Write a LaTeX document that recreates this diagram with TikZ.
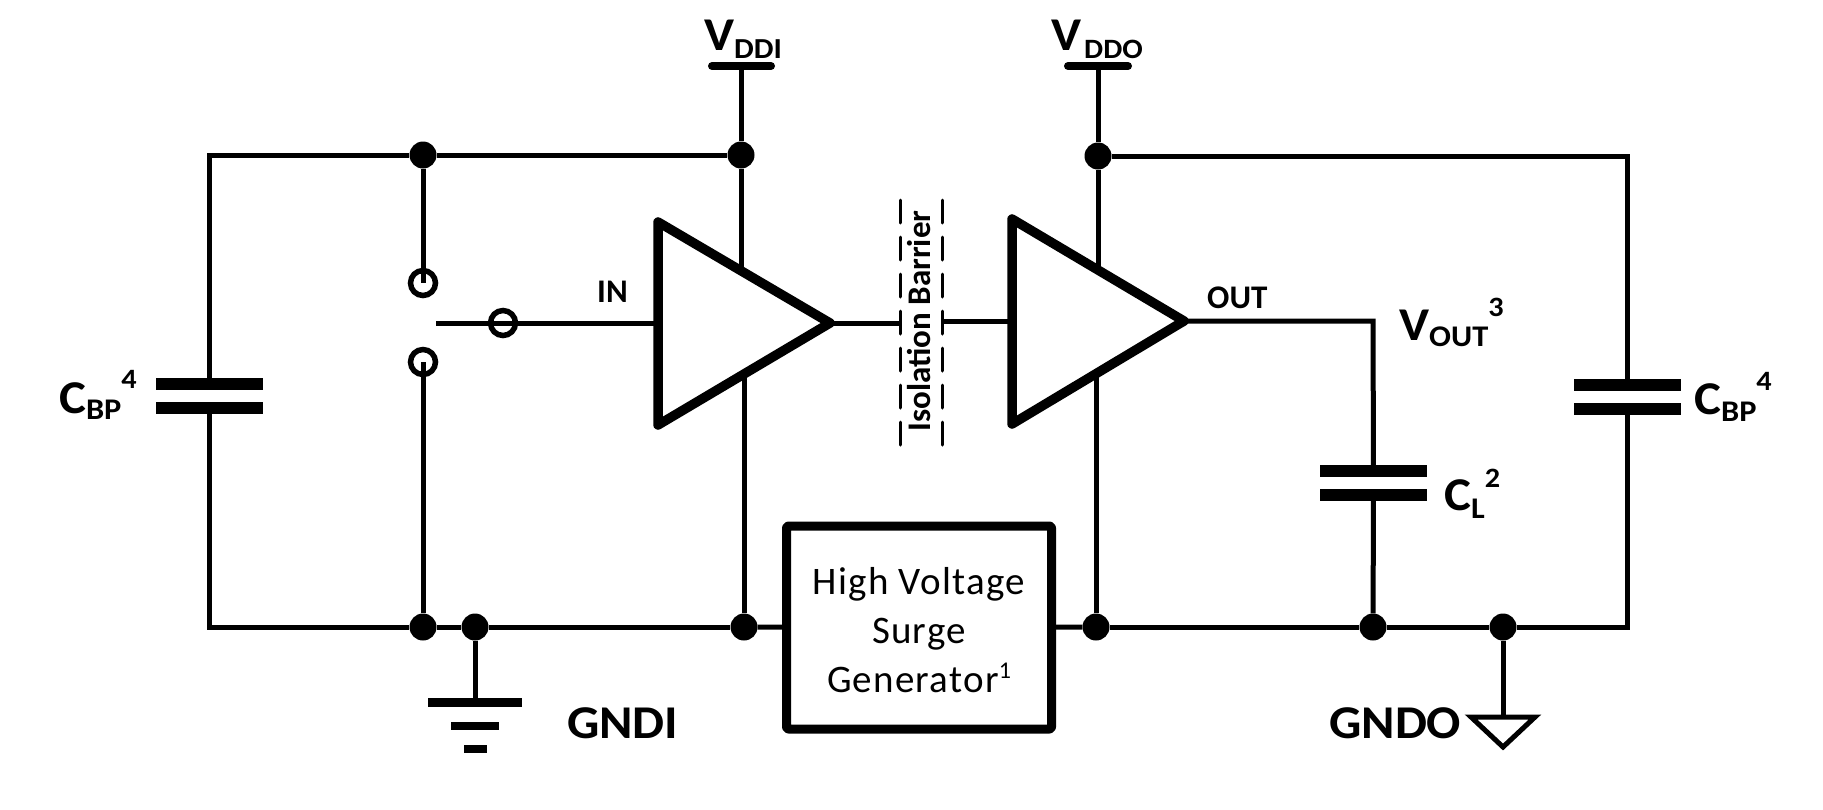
\documentclass[tikz,border=0pt]{standalone}
\usepackage{fontspec}
\setmainfont{Carlito}
\newfontfamily\stretchfont[FakeStretch=1.08]{Carlito}
\usetikzlibrary{arrows.meta}
\newcommand{\lowsub}[3]{\raisebox{#2pt}{\fontsize{#1}{#1}\selectfont #3}}
\tikzset{
	wire/.style={line width=5pt},
	thickwire/.style={line width=9.5pt, line join=round},
	jdot/.style={circle, fill=black, inner sep=0pt, minimum size=27pt},
	swpin/.style={circle, draw, line width=5.5pt, inner sep=0pt, minimum size=25pt},
	plate/.style={rectangle, fill=black, inner sep=0pt, minimum width=107pt, minimum height=12pt},
	railbar/.style={line width=8pt, line cap=round},
	biglabel/.style={font=\stretchfont\fontsize{47}{47}\selectfont\bfseries, inner sep=0pt, anchor=base west},
	smalllabel/.style={font=\fontsize{33}{33}\selectfont\bfseries, inner sep=0pt, anchor=base west},
	barrier/.style={line width=3pt, dash pattern=on 23pt off 14pt, line cap=round}
}
\begin{document}
\begin{tikzpicture}[x=1pt, y=-1pt]
		\useasboundingbox (0,0) rectangle (1823,809);

		\node[jdot] (J1) at (423,155) {};
		\node[jdot] (J2) at (741,155) {};
		\node[jdot] (J3) at (1098,156) {};
		\node[jdot] (J4) at (423,627) {};
		\node[jdot] (J5) at (475,627) {};
		\node[jdot] (J6) at (744,627) {};
		\node[jdot] (J7) at (1096,627) {};
		\node[jdot] (J8) at (1373,627) {};
		\node[jdot] (J9) at (1503,627) {};

		\node[swpin] (S1) at (423,283) {};
		\node[swpin] (S2) at (503,323) {};
		\node[swpin] (S3) at (423,362) {};
		\coordinate (Sarm) at (436,323);

		\coordinate (Atop) at (658,222);
		\coordinate (Abot) at (658,425);
		\coordinate (Atip) at (830,323);
		\coordinate (Ain) at (658,323);
		\coordinate (Aup) at (741,268);
		\coordinate (Adown) at (744,377);
		\coordinate (Btop) at (1012,219);
		\coordinate (Bbot) at (1012,424);
		\coordinate (Btip) at (1184,321);
		\coordinate (Bin) at (1012,321);
		\coordinate (Bup) at (1098,268);
		\coordinate (Bdown) at (1096,377);
		\draw[thickwire] (Atop) -- (Atip) -- (Abot) -- cycle;
		\draw[thickwire] (Btop) -- (Btip) -- (Bbot) -- cycle;

		\node[draw, thickwire, line width=9pt, rounded corners=2pt, minimum width=265pt, minimum height=203pt] (G) at (919,627.5) {};
		\node[align=center, inner sep=0pt, font=\fontsize{39}{49}\selectfont\addfontfeatures{LetterSpace=3.2}] (Gtext) at (919,630) {High Voltage\\Surge\\Generator\lowsub{24}{14}{1}};

		\node[plate] (C1a) at (209.5,384) {};
		\node[plate] (C1b) at (209.5,408) {};
		\node[plate] (C2a) at (1627.5,385) {};
		\node[plate] (C2b) at (1627.5,409) {};
		\node[plate] (C3a) at (1373.5,471) {};
		\node[plate] (C3b) at (1373.5,495) {};

		\coordinate (VIend) at (741,66);
		\coordinate (VOend) at (1098,66);
		\draw[railbar] (712,66) -- (VIend) -- (771,66);
		\draw[railbar] (1068,66) -- (VOend) -- (1128,66);

		\coordinate (Bcorner) at (1373,321);
		\coordinate (G2) at (1503,717);
		\node[rectangle, fill=black, inner sep=0pt, minimum width=94pt, minimum height=9pt] (P1) at (475,702.5) {};
		\node[rectangle, fill=black, inner sep=0pt, minimum width=48pt, minimum height=8pt] (P2) at (475,726) {};
		\node[rectangle, fill=black, inner sep=0pt, minimum width=23pt, minimum height=8pt] (P3) at (475,749) {};
		\draw[wire, line join=miter] (1471,717) -- (1535,717) -- (1503,747) -- cycle;

		\draw[wire] (C1a) |- (J1);
		\draw[wire] (J1) -- (J2);
		\draw[wire] (C1b) |- (J4);
		\draw[wire] (J1) -- (S1.center);
		\draw[wire] (S3.center) -- (J4);
		\draw[wire] (Sarm) -- (S2.center);
		\draw[wire] (S2.center) -- (Ain);
		\draw[wire] (VIend) -- (J2);
		\draw[wire] (J2) -- (Aup);
		\draw[wire] (Adown) -- (J6);
		\draw[wire] (J4) -- (J5);
		\draw[wire] (J5) -- (J6);
		\draw[wire] (J6) -- (G);
		\draw[wire] (J5) -- (P1);
		\draw[wire] (VOend) -- (J3);
		\draw[wire] (J3) -- (Bup);
		\draw[wire] (Bdown) -- (J7);
		\draw[wire] (G) -- (J7);
		\draw[wire] (J7) -- (J8);
		\draw[wire] (J8) -- (J9);
		\draw[wire] (J3) -| (C2a);
		\draw[wire] (J9) -| (C2b);
		\draw[wire] (Btip) -- (Bcorner) -- (C3a);
		\draw[wire] (C3b) -- (J8);
		\draw[wire] (J9) -- (G2);

		\draw[barrier] (900,200) -- (900,445);
		\draw[barrier] (942,200) -- (942,445);
		\draw[wire] (Atip) -- (900,323);
		\draw[wire] (942,321) -- (Bin);

		\node[smalllabel, anchor=base, rotate=90] (ISO) at (930,321) {Isolation Barrier};
		\node[smalllabel] (IN) at (597,302) {IN};
		\node[smalllabel] (OUT) at (1207,308) {OUT};
		\node[biglabel] (VDDI) at (704,50) {V\lowsub{29}{-8}{DDI}};
		\node[biglabel] (VDDO) at (1051,50) {V\kern3pt\lowsub{28}{-8}{DDO}};
		\node[biglabel] (VOUT) at (1399,340) {V\lowsub{30}{-6}{OUT}\lowsub{28}{24}{3}};
		\node[biglabel] (CBPL) at (59,413) {C\lowsub{30}{-6}{BP}\lowsub{28}{25}{4}};
		\node[biglabel] (CBPR) at (1694,414) {C\lowsub{30}{-7}{BP}\lowsub{28}{24}{4}};
		\node[biglabel] (CL) at (1444,510) {C\lowsub{30}{-8}{L}\lowsub{28}{23}{2}};
		\node[biglabel] (GNDI) at (567,738) {GNDI};
		\node[biglabel] (GNDO) at (1329,738) {GNDO};
	\end{tikzpicture}
\end{document}
